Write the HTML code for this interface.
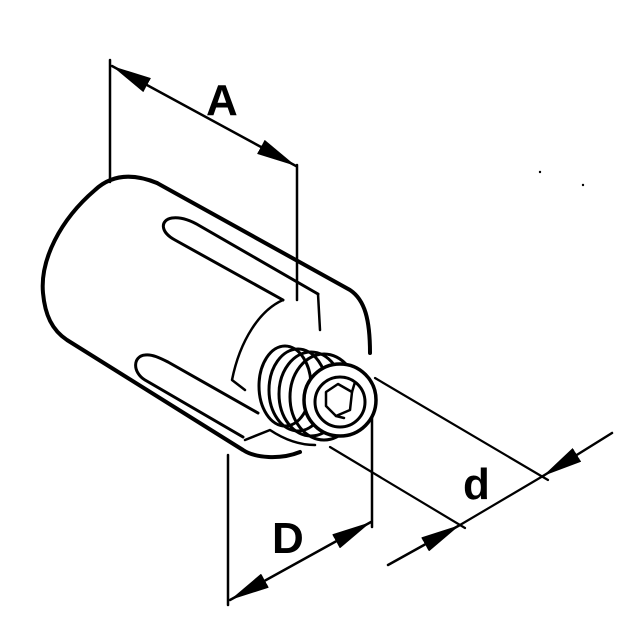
<!DOCTYPE html>
<html><head><style>html,body{margin:0;padding:0;background:#fff;}svg{display:block}</style></head>
<body>
<svg width="640" height="640" viewBox="0 0 640 640" xmlns="http://www.w3.org/2000/svg">
<defs>
<marker id="ab" viewBox="0 0 10 10" refX="10" refY="5" markerWidth="40" markerHeight="16" markerUnits="userSpaceOnUse" orient="auto-start-reverse" preserveAspectRatio="none">
<path d="M0,0 L10,5 L0,10 z" fill="#000"/></marker>
</defs>
<g fill="none" stroke="#000" stroke-linecap="round" stroke-linejoin="round">
<!-- A dimension -->
<line x1="110" y1="60" x2="110" y2="182" stroke-width="2.5"/>
<line x1="297" y1="165" x2="297" y2="300" stroke-width="2.5"/>
<line x1="112" y1="66" x2="296" y2="166" stroke-width="2.5" marker-start="url(#ab)" marker-end="url(#ab)"/>
<!-- D dimension -->
<line x1="228" y1="455" x2="228" y2="605" stroke-width="2.5"/>
<line x1="372" y1="415" x2="372" y2="527" stroke-width="2.5"/>
<line x1="230" y1="600" x2="371" y2="522" stroke-width="2.5" marker-start="url(#ab)" marker-end="url(#ab)"/>
<!-- d dimension -->
<line x1="330" y1="447" x2="465" y2="528" stroke-width="2.2"/>
<line x1="375" y1="378" x2="548" y2="480" stroke-width="2.2"/>
<line x1="388" y1="565" x2="460" y2="525" stroke-width="2.5" marker-end="url(#ab)"/>
<line x1="612" y1="433" x2="543" y2="476" stroke-width="2.5" marker-end="url(#ab)"/>
<line x1="460" y1="525" x2="543" y2="476" stroke-width="2.2"/>
<!-- cylinder body -->
<path d="M157,183 C130,172 110,176 95,190 C60,220 40,260 43,293 C45,315 52,330 67,340 L243,450 C255,458 280,460 300,452" stroke-width="4"/>
<path d="M157,183 L350,290 C365,300 370,320 370,353" stroke-width="4"/>
<!-- upper slot -->
<path d="M283,300 L175,240 C160,232 160,220 172,218 C180,217 190,220 200,226 L318,294" stroke-width="3"/>
<!-- lower slot -->
<path d="M243,437 L145,380 C132,372 133,356 145,355 C152,354 160,358 168,362 L258,413" stroke-width="3"/>
<!-- inner face -->
<path d="M283,300 C260,310 240,340 232,380 L245,390" stroke-width="2.5"/>
<path d="M318,294 L320,330" stroke-width="2.5"/>
<path d="M245,440 L270,430 C285,440 300,445 315,445" stroke-width="2.5"/>
<!-- threads -->
<ellipse cx="285" cy="386" rx="26" ry="40" stroke-width="3"/>
<ellipse cx="298" cy="390" rx="29" ry="41" stroke-width="3"/>
<ellipse cx="311" cy="394" rx="32" ry="42" stroke-width="3"/>
<ellipse cx="324" cy="397" rx="34" ry="43" stroke-width="3"/>
<circle cx="340" cy="400" r="36" stroke-width="3.5" fill="#fff"/>
<circle cx="340" cy="402" r="25" stroke-width="3"/>
<path d="M326,392 L338,384 L352,392 L350,410 L336,416 L326,406 z" stroke-width="2.5"/>
<line x1="352" y1="392" x2="355" y2="382" stroke-width="2.5"/>
<line x1="336" y1="416" x2="344" y2="418" stroke-width="2.5"/>
</g>
<circle cx="540" cy="172" r="1.2" fill="#000"/>
<circle cx="583" cy="185" r="1.2" fill="#000"/>
<g font-family="Liberation Sans, sans-serif" font-weight="bold" font-size="44" fill="#000">
<text x="206" y="115">A</text>
<text x="272" y="553">D</text>
<text x="463" y="499">d</text>
</g>
</svg>
</body></html>
